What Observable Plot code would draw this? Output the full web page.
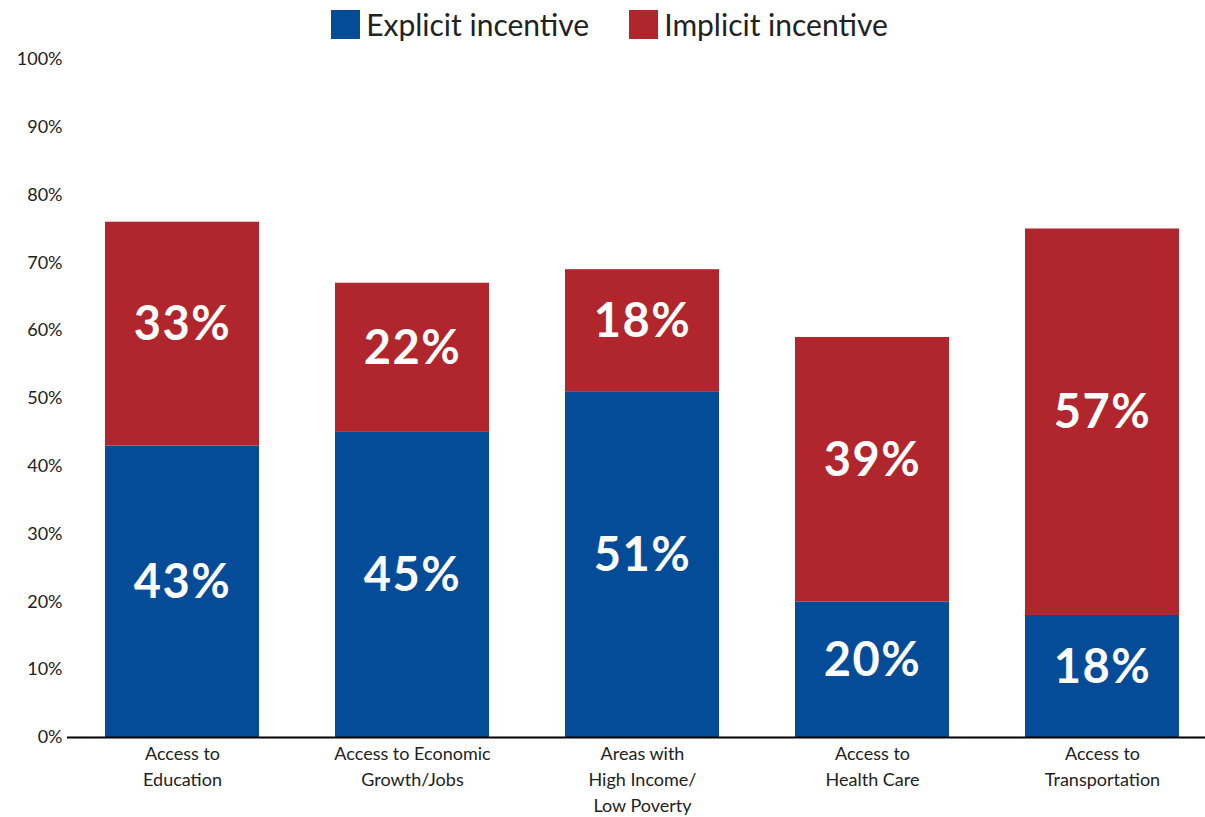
<!DOCTYPE html>
<html>
<head>
<meta charset="utf-8">
<script src="https://cdn.jsdelivr.net/npm/d3@7"></script>
<script src="https://cdn.jsdelivr.net/npm/@observablehq/plot@0.6"></script>
<style>
  body { margin: 0; background: #fff; font-family: Lato, "Noto Sans", sans-serif; }
  #legend { height: 48px; display: flex; justify-content: center; align-items: center; font-size: 30px; color: #222; padding-left: 14px; box-sizing: border-box; }
  .item { display: flex; align-items: center; margin: 0 20px; }
  .sw { width: 29px; height: 29px; margin-right: 6px; }
  .vals text { letter-spacing: 1.5px; }
</style>
</head>
<body>
<div id="legend"></div>
<div id="chart"></div>
<script>
const categories = ["Access to Education", "Access to Economic Growth/Jobs", "Areas with High Income/Low Poverty", "Access to Health Care", "Access to Transportation"];
const tickLabels = ["Access to\nEducation", "Access to Economic\nGrowth/Jobs", "Areas with\nHigh Income/\nLow Poverty", "Access to\nHealth Care", "Access to\nTransportation"];
const series = ["Explicit incentive", "Implicit incentive"];
const colors = ["#044C98", "#B1262D"];
const explicit = [43, 45, 51, 20, 18];
const implicit = [33, 22, 18, 39, 57];
const yTicks = [0, 10, 20, 30, 40, 50, 60, 70, 80, 90, 100];

const data = [];
categories.forEach((c, i) => {
  data.push({category: c, series: series[0], value: explicit[i]});
  data.push({category: c, series: series[1], value: implicit[i]});
});

const legend = document.getElementById("legend");
series.forEach((s, i) => {
  const it = document.createElement("div");
  it.className = "item";
  it.innerHTML = `<div class="sw" style="background:${colors[i]}"></div><span>${s}</span>`;
  legend.appendChild(it);
});

const labelMap = new Map(categories.map((c, i) => [c, tickLabels[i]]));

const chart = Plot.plot({
  width: 1205,
  height: 769,
  marginLeft: 67,
  marginRight: 0,
  marginTop: 11,
  marginBottom: 80,
  style: {fontFamily: "Lato, 'Noto Sans', sans-serif", background: "#fff"},
  x: {domain: categories, range: [67, 1216], paddingInner: 0.331, paddingOuter: 0.16, label: null},
  y: {domain: [0, 100], label: null},
  color: {domain: series, range: colors},
  marks: [
    Plot.barY(data, Plot.stackY({order: series, x: "category", y: "value", z: "series", fill: "series"})),
    Plot.text(data, Plot.stackY({order: series, x: "category", y: "value", z: "series", text: d => d.value + "%", fill: "white", fontSize: 47, fontWeight: "bold", dy: -9, className: "vals"})),
    Plot.ruleY([0], {stroke: "#000", strokeWidth: 2}),
    Plot.axisY({ticks: yTicks, tickSize: 0, tickPadding: 5, tickFormat: d => d + "%", fontSize: 18, fill: "#222"}),
    Plot.axisX({tickSize: 0, tickPadding: 4, tickFormat: d => labelMap.get(d), fontSize: 18, lineHeight: 1.44, fill: "#222"})
  ]
});
document.getElementById("chart").appendChild(chart);
</script>
</body>
</html>
